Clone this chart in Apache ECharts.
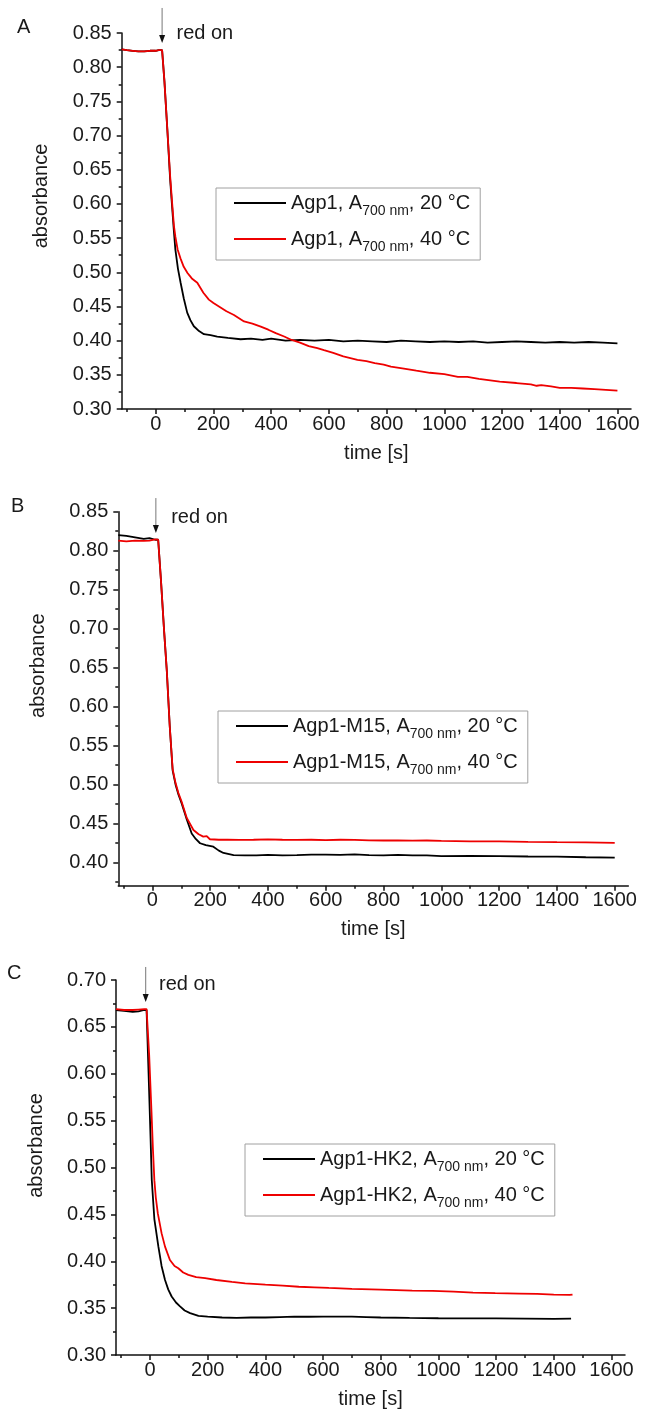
<!DOCTYPE html>
<html><head><meta charset="utf-8">
<script src="https://cdn.jsdelivr.net/npm/echarts@6/dist/echarts.min.js"></script>
<style>html,body{margin:0;padding:0;background:#fff}#c{width:653px;height:1416px}</style>
</head><body><div id="c"></div>
<script>
// ---------- tick labels ----------
const xTicks = [0, 200, 400, 600, 800, 1000, 1200, 1400, 1600];
const xMinorTicks = [-100, 100, 300, 500, 700, 900, 1100, 1300, 1500];
const yTicksA = [0.30, 0.35, 0.40, 0.45, 0.50, 0.55, 0.60, 0.65, 0.70, 0.75, 0.80, 0.85];
const yMinorA = [0.325, 0.375, 0.425, 0.475, 0.525, 0.575, 0.625, 0.675, 0.725, 0.775, 0.825];
const yTicksB = [0.40, 0.45, 0.50, 0.55, 0.60, 0.65, 0.70, 0.75, 0.80, 0.85];
const yMinorB = [0.375, 0.425, 0.475, 0.525, 0.575, 0.625, 0.675, 0.725, 0.775, 0.825];
const yTicksC = [0.30, 0.35, 0.40, 0.45, 0.50, 0.55, 0.60, 0.65, 0.70];
const yMinorC = [0.325, 0.375, 0.425, 0.475, 0.525, 0.575, 0.625, 0.675];
const panelLetters = ['A', 'B', 'C'];

// ---------- series labels ----------
const samples = ['Agp1', 'Agp1-M15', 'Agp1-HK2'];
const temps = ['20 °C', '40 °C'];

// ---------- Panel A data ----------
const aTime20 = [-118,-100,-80,-60,-40,-20,0,10,22,30,40,50,56,62,68,77,86,97,109,120,132,150,167,190,213,250,294,330,370,400,450,500,550,600,650,700,750,800,850,900,950,1000,1050,1100,1150,1200,1250,1300,1350,1400,1450,1500,1550,1600];
const aAbs20  = [0.826,0.825,0.824,0.823,0.823,0.824,0.824,0.825,0.825,0.780,0.710,0.635,0.600,0.565,0.533,0.505,0.485,0.462,0.441,0.430,0.421,0.414,0.4095,0.408,0.406,0.404,0.402,0.403,0.401,0.403,0.400,0.401,0.400,0.401,0.399,0.400,0.399,0.398,0.400,0.399,0.398,0.399,0.398,0.399,0.397,0.398,0.399,0.398,0.397,0.398,0.397,0.398,0.397,0.396];
const aTime40 = [-118,-100,-80,-60,-40,-20,0,10,22,30,40,50,57,63,68,76,86,97,110,125,144,165,184,200,219,245,271,306,335,364,390,416,445,471,500,530,560,583,615,650,699,730,759,790,815,860,903,950,1000,1047,1080,1120,1192,1250,1300,1320,1336,1370,1400,1440,1480,1520,1560,1600];
const aAbs40  = [0.826,0.825,0.824,0.823,0.823,0.824,0.824,0.825,0.825,0.780,0.710,0.640,0.600,0.568,0.552,0.533,0.520,0.508,0.499,0.491,0.4846,0.470,0.460,0.455,0.450,0.443,0.4375,0.428,0.425,0.4206,0.416,0.411,0.406,0.401,0.397,0.392,0.389,0.386,0.382,0.377,0.372,0.370,0.367,0.365,0.362,0.359,0.356,0.353,0.351,0.347,0.347,0.344,0.340,0.338,0.336,0.334,0.335,0.333,0.331,0.331,0.330,0.329,0.328,0.327];

// ---------- Panel B data ----------
const bTime20 = [-118,-90,-60,-30,-10,10,20,30,40,50,60,70,80,90,101,119,136,150,165,185,211,230,246,281,320,360,400,450,500,550,600,650,700,750,800,850,900,950,1000,1100,1200,1300,1400,1500,1600];
const bAbs20  = [0.820,0.819,0.817,0.815,0.816,0.814,0.814,0.760,0.700,0.645,0.575,0.518,0.500,0.487,0.476,0.455,0.437,0.430,0.4245,0.422,0.4200,0.415,0.412,0.4092,0.409,0.4088,0.4095,0.409,0.4092,0.4098,0.410,0.4095,0.4102,0.4092,0.409,0.4095,0.409,0.4088,0.408,0.4082,0.408,0.4075,0.4072,0.4065,0.406];
const bTime40 = [-118,-90,-60,-30,-10,10,20,30,40,50,60,70,80,90,101,119,142,160,176,188,199,230,260,300,350,400,450,500,550,600,650,700,750,800,850,900,950,1000,1100,1200,1300,1400,1500,1600];
const bAbs40  = [0.813,0.812,0.813,0.8125,0.813,0.8145,0.814,0.760,0.700,0.645,0.575,0.520,0.502,0.489,0.478,0.457,0.4415,0.436,0.433,0.4336,0.4296,0.429,0.4292,0.4288,0.429,0.4295,0.429,0.4288,0.429,0.4285,0.429,0.4288,0.4282,0.428,0.4282,0.4278,0.428,0.4275,0.427,0.4268,0.4262,0.4258,0.4255,0.425];

// ---------- Panel C data ----------
const cTime20 = [-118,-90,-60,-40,-20,-12,-5,2,6,15,29,40,52,63,75,90,104,120,139,168,200,250,300,350,400,450,500,550,600,700,750,800,900,1000,1100,1200,1300,1400,1460];
const cAbs20  = [0.668,0.667,0.666,0.6665,0.668,0.668,0.600,0.530,0.487,0.445,0.4156,0.395,0.380,0.370,0.3624,0.356,0.3518,0.3475,0.3447,0.3418,0.341,0.340,0.3395,0.340,0.340,0.3405,0.341,0.3408,0.341,0.341,0.3405,0.340,0.3395,0.3392,0.339,0.339,0.3388,0.3385,0.3388];
const cTime40 = [-118,-90,-60,-40,-20,-12,-3,5,10,15,20,27,40,52,69,85,98,115,133,160,191,230,284,330,400,460,516,570,620,700,800,909,980,1053,1120,1197,1280,1342,1400,1455,1465];
const cAbs40  = [0.669,0.668,0.668,0.6685,0.669,0.669,0.620,0.560,0.520,0.4865,0.468,0.451,0.430,0.4156,0.4014,0.395,0.3925,0.388,0.3855,0.383,0.382,0.380,0.378,0.3765,0.375,0.374,0.3728,0.3722,0.3715,0.3705,0.3698,0.3687,0.3683,0.3677,0.3665,0.3659,0.3655,0.3652,0.3645,0.3641,0.3645];

// ---------- annotation anchors (data space) ----------
const arrowT = [22, 12, -15];
const arrowTop = [0.8866, 0.8675, 0.7139];
const arrowTip = [0.8355, 0.8227, 0.6765];
const redOnT = [72, 65, 31];
const redOnV = [0.8486, 0.842, 0.6947];

const FONT = 'Liberation Sans, Arial, sans-serif';
const TXT = '#1a1a1a';

const panels = [
  {grid:{left:121.7, top:33, width:509.3, height:376}, yMin:0.30, yMax:0.85, yT:yTicksA, yM:yMinorA,
   series:[[aTime20,aAbs20],[aTime40,aAbs40]], legend:{left:216, top:188}, yNamePad:50},
  {grid:{left:118.3, top:511.7, width:510, height:374}, yMin:0.37, yMax:0.85, yT:yTicksB, yM:yMinorB,
   series:[[bTime20,bAbs20],[bTime40,bAbs40]], legend:{left:218, top:711}, yNamePad:66},
  {grid:{left:116, top:980, width:509, height:375}, yMin:0.30, yMax:0.70, yT:yTicksC, yM:yMinorC,
   series:[[cTime20,cAbs20],[cTime40,cAbs40]], legend:{left:245, top:1144}, yNamePad:44}
];
const colors = ['#000000', '#ee0000'];

const grids = [], xAxes = [], yAxes = [], series = [], legends = [];
const richMap = {};
panels.forEach((p, g) => {
  grids.push(Object.assign({containLabel:false}, p.grid));
  const axLine = {show:true, onZero:false, lineStyle:{color:'#111', width:1.5}};
  xAxes.push({type:'value', gridIndex:g, min:-118, max:1647, position:'bottom',
    name:'time [s]', nameLocation:'middle', nameGap:34,
    nameTextStyle:{fontSize:20, color:TXT, fontFamily:FONT},
    axisLine:axLine, splitLine:{show:false},
    axisTick:{show:true, inside:false, length:5, customValues:xTicks, lineStyle:{color:'#111', width:1.5}},
    axisLabel:{show:true, customValues:xTicks, fontSize:20, color:TXT, fontFamily:FONT, margin:5,
      formatter:v => String(v)}});
  xAxes.push({type:'value', gridIndex:g, min:-118, max:1647, position:'bottom',
    axisLine:{show:false, onZero:false}, splitLine:{show:false}, axisLabel:{show:false},
    axisTick:{show:true, inside:false, length:3, customValues:xMinorTicks, lineStyle:{color:'#111', width:1.5}}});
  yAxes.push({type:'value', gridIndex:g, min:p.yMin, max:p.yMax, position:'left',
    name:'absorbance', nameLocation:'middle', nameGap:70, nameRotate:90,
    nameTextStyle:{fontSize:20, color:TXT, fontFamily:FONT, padding:[0,0,0,p.yNamePad]},
    axisLine:axLine, splitLine:{show:false},
    axisTick:{show:true, inside:false, length:5, customValues:p.yT, lineStyle:{color:'#111', width:1.5}},
    axisLabel:{show:true, customValues:p.yT, fontSize:20, color:TXT, fontFamily:FONT, margin:10,
      formatter:v => v.toFixed(2)}});
  yAxes.push({type:'value', gridIndex:g, min:p.yMin, max:p.yMax, position:'left',
    axisLine:{show:false, onZero:false}, splitLine:{show:false}, axisLabel:{show:false},
    axisTick:{show:true, inside:false, length:3, customValues:p.yM, lineStyle:{color:'#111', width:1.5}}});
  const names = [];
  p.series.forEach((s, k) => {
    const name = samples[g] + ', A700 nm, ' + temps[k];
    richMap[name] = '{m|' + samples[g] + ', A}{s|700 nm}{m|, ' + temps[k] + '}';
    names.push(name);
    series.push({type:'line', name:name, xAxisIndex:2*g, yAxisIndex:2*g,
      data:s[0].map((t, i) => [t, s[1][i]]),
      showSymbol:false, symbol:'none', smooth:false, animation:false, z: 3 + k,
      color:colors[k], lineStyle:{color:colors[k], width:1.8}});
  });
  legends.push({orient:'vertical', left:p.legend.left, top:p.legend.top, data:names,
    icon:'rect', itemWidth:52, itemHeight:2, itemGap:6, padding:[0,10,6,18],
    borderColor:'#a0a0a0', borderWidth:1, backgroundColor:'#fff',
    selectedMode:false,
    formatter:n => richMap[n],
    textStyle:{color:TXT, fontFamily:FONT, rich:{
      m:{fontSize:20, color:TXT, fontFamily:FONT, lineHeight:30, verticalAlign:'middle'},
      s:{fontSize:14, color:TXT, fontFamily:FONT, lineHeight:14, padding:[16,0,0,0], verticalAlign:'middle'}
    }}});
});

const chart = echarts.init(document.getElementById('c'), null, {renderer:'canvas'});
chart.setOption({animation:false, backgroundColor:'#fff', grid:grids, xAxis:xAxes, yAxis:yAxes,
  series:series, legend:legends});

// annotations positioned through the axes' own scales
const graphics = [];
const letterPos = [[17, 17], [11, 496], [7, 963]];
panels.forEach((p, g) => {
  const f = {xAxisIndex:2*g, yAxisIndex:2*g};
  const top = chart.convertToPixel(f, [arrowT[g], arrowTop[g]]);
  const tip = chart.convertToPixel(f, [arrowT[g], arrowTip[g]]);
  graphics.push({type:'line', shape:{x1:top[0], y1:top[1], x2:tip[0], y2:tip[1]-6},
    style:{stroke:'#777', lineWidth:1}, z:10});
  graphics.push({type:'polygon', shape:{points:[[tip[0]-3, tip[1]-8],[tip[0]+3, tip[1]-8],[tip[0], tip[1]]]},
    style:{fill:'#111'}, z:10});
  const ro = chart.convertToPixel(f, [redOnT[g], redOnV[g]]);
  graphics.push({type:'text', x:ro[0], y:ro[1], style:{text:'red on', fontSize:20, fill:TXT,
    fontFamily:FONT, verticalAlign:'middle', align:'left'}, z:10});
  graphics.push({type:'text', x:letterPos[g][0], y:letterPos[g][1], style:{text:panelLetters[g],
    fontSize:20, fill:TXT, fontFamily:FONT}, z:10});
});
chart.setOption({graphic:graphics});
</script></body></html>
